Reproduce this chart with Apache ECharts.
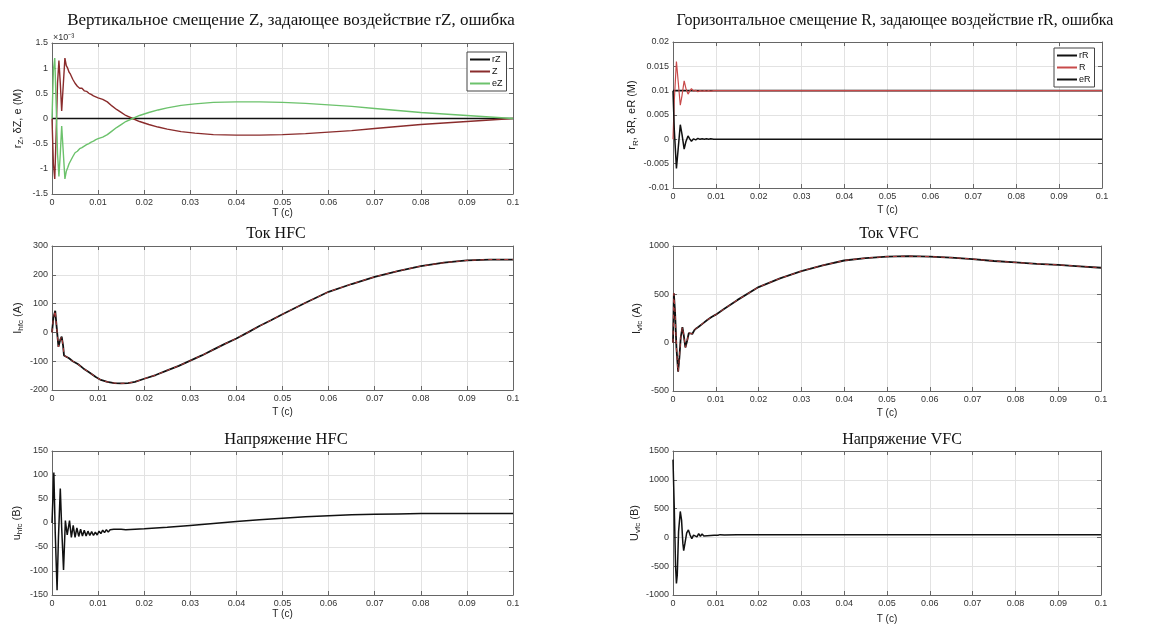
<!DOCTYPE html>
<html><head><meta charset="utf-8">
<script src="https://cdn.jsdelivr.net/npm/echarts@6/dist/echarts.min.js"></script>
<style>html,body{margin:0;padding:0;background:#fff}#c{width:1173px;height:628px}</style>
</head><body><div id="c"></div>
<script>
// ---------- DATA ----------
const xTickLabels = ['0','0.01','0.02','0.03','0.04','0.05','0.06','0.07','0.08','0.09','0.1'];

// Panel 1: vertical displacement (units of 1e-3 m)
const tZ = [0,0.0003,0.0006,0.0009,0.0012,0.0015,0.0018,0.0021,0.0024,0.0028,0.0031,0.0034,0.0037,0.004,0.0045,0.005,0.0055,0.006,0.0065,0.007,0.0075,0.008,0.0085,0.009,0.0095,0.01,0.011,0.012,0.013,0.014,0.015,0.016,0.0175,0.019,0.021,0.023,0.025,0.028,0.031,0.035,0.04,0.045,0.05,0.055,0.06,0.065,0.07,0.075,0.08,0.085,0.09,0.095,0.1];
const zVals = [0,-0.9,-1.2,-0.3,0.7,1.15,0.7,0.15,0.6,1.2,1.05,1.0,0.92,0.88,0.78,0.7,0.64,0.6,0.6,0.55,0.54,0.5,0.48,0.45,0.43,0.41,0.38,0.33,0.25,0.18,0.12,0.06,0,-0.06,-0.12,-0.17,-0.21,-0.26,-0.29,-0.32,-0.33,-0.33,-0.32,-0.30,-0.27,-0.24,-0.20,-0.16,-0.12,-0.09,-0.06,-0.03,0];
const eZVals = [0,0.95,1.2,0.3,-0.7,-1.15,-0.7,-0.15,-0.6,-1.2,-1.05,-0.98,-0.9,-0.87,-0.76,-0.68,-0.65,-0.6,-0.58,-0.55,-0.52,-0.5,-0.47,-0.45,-0.42,-0.4,-0.37,-0.32,-0.25,-0.18,-0.12,-0.06,0,0.06,0.12,0.17,0.21,0.26,0.29,0.32,0.33,0.33,0.32,0.30,0.27,0.24,0.20,0.16,0.12,0.09,0.06,0.03,0];
const tRZ = [0,0.1];
const rZVals = [0,0];

// Panel 2: horizontal displacement (m)
const tR = [0,0.0003,0.0008,0.0012,0.0017,0.0021,0.0026,0.003,0.0035,0.0039,0.0043,0.0048,0.0053,0.0058,0.0063,0.0068,0.0073,0.0078,0.0083,0.0088,0.0095,0.012,0.02,0.1];
const rVals = [0,0.008,0.016,0.012,0.007,0.009,0.012,0.0105,0.0093,0.0099,0.0104,0.0099,0.0101,0.0098,0.01,0.0099,0.01,0.0099,0.01,0.0099,0.01,0.01,0.01,0.01];
const eRVals = [0.01,0.002,-0.006,-0.002,0.003,0.001,-0.002,-0.0005,0.0007,0.0001,-0.0004,0.0001,-0.0001,0.0002,0,0.0001,0,0.0001,0,0.0001,0,0,0,0];
const tRR = [0,0.1];
const rRVals = [0.01,0.01];

// Panel 3: HFC current (A)
const tI1 = [0,0.0003,0.0007,0.001,0.0014,0.0018,0.0021,0.0024,0.0026,0.003,0.0037,0.0045,0.0056,0.0068,0.0082,0.0095,0.0106,0.012,0.0135,0.015,0.0165,0.018,0.02,0.0225,0.025,0.0275,0.03,0.0325,0.035,0.0375,0.04,0.0425,0.045,0.0475,0.05,0.055,0.06,0.065,0.07,0.075,0.08,0.085,0.09,0.095,0.1];
const iHfc = [0,50,75,20,-50,-25,-15,-45,-80,-85,-90,-100,-110,-125,-140,-155,-165,-172,-176,-177,-176,-172,-161,-148,-132,-116,-98,-80,-60,-40,-21,0,22,42,63,103,141,168,193,213,230,242,250,253,253];

// Panel 4: VFC current (A)
const tI2 = [0,0.0002,0.0005,0.0008,0.0012,0.0015,0.0018,0.0022,0.0025,0.0029,0.0033,0.0037,0.0041,0.0045,0.005,0.0055,0.006,0.007,0.008,0.009,0.01,0.012,0.015,0.02,0.025,0.03,0.035,0.04,0.045,0.05,0.055,0.06,0.065,0.07,0.075,0.08,0.085,0.09,0.095,0.1];
const iVfc = [0,510,300,-50,-300,-150,50,160,80,-50,20,100,95,90,130,150,165,200,235,265,290,350,440,575,665,740,800,850,875,890,895,890,880,865,845,830,815,805,790,775];

// Panel 5: HFC voltage (V)
const tU1 = [0,0.0004,0.0007,0.0011,0.0014,0.0018,0.0021,0.0025,0.0029,0.0033,0.0038,0.0042,0.0046,0.005,0.0054,0.0058,0.0062,0.0066,0.007,0.0074,0.0078,0.0082,0.0086,0.009,0.0094,0.0098,0.0102,0.0106,0.011,0.0114,0.0118,0.0122,0.0126,0.013,0.0134,0.0138,0.0142,0.0146,0.015,0.016,0.018,0.02,0.025,0.03,0.035,0.04,0.045,0.05,0.055,0.06,0.065,0.07,0.075,0.08,0.085,0.09,0.095,0.1];
const uHfc = [0,105,-20,-140,-30,72,-10,-98,5,-25,5,-30,-5,-30,-10,-28,-13,-27,-15,-27,-17,-26,-18,-26,-19,-25,-17,-22,-15,-20,-14,-19,-14,-18,-13,-17,-13,-16,-13,-14,-13,-12,-9,-5,-1,3,7,10,13,15,17,18,19,20,20,20,20,20];

// Panel 6: VFC voltage (V)
const tU2 = [0,0.0003,0.0006,0.0008,0.001,0.0013,0.0017,0.002,0.0023,0.0025,0.0028,0.0032,0.0036,0.004,0.0044,0.0048,0.0052,0.0056,0.006,0.0064,0.0068,0.0072,0.0076,0.008,0.0084,0.0088,0.0092,0.0096,0.01,0.0105,0.011,0.012,0.015,0.02,0.05,0.1];
const uVfc = [1350,500,-500,-800,-650,100,450,300,-100,-230,-100,80,130,40,-20,40,70,10,65,20,60,25,58,30,55,33,52,36,50,38,48,42,44,45,45,45];

const titles = [
  'Вертикальное смещение Z, задающее воздействие rZ, ошибка',
  'Горизонтальное смещение R, задающее воздействие rR, ошибка',
  'Ток HFC','Ток VFC','Напряжение HFC','Напряжение VFC'];

// ---------- LAYOUT ----------
const grids = [
  {left:52, top:43, width:461, height:151},
  {left:673, top:42, width:429, height:146},
  {left:52, top:246, width:461, height:144},
  {left:673, top:246, width:428, height:145},
  {left:52, top:451, width:461, height:144},
  {left:673, top:451, width:428, height:144}];
const yCfg = [
  {min:-1.5, max:1.5, interval:0.5, name:'{b|r}{s|Z}{b|, δZ, e (М)}', gap:27},
  {min:-0.01, max:0.02, interval:0.005, name:'{b|r}{s|R}{b|, δR, eR (М)}', gap:33},
  {min:-200, max:300, interval:100, name:'{b|I}{s|hfc}{b| (A)}', gap:27},
  {min:-500, max:1000, interval:500, name:'{b|I}{s|vfc}{b| (A)}', gap:29},
  {min:-150, max:150, interval:50, name:'{b|u}{s|hfc}{b| (В)}', gap:28},
  {min:-1000, max:1500, interval:500, name:'{b|U}{s|vfc}{b| (В)}', gap:28}];
const xNameGap = [11, 17, 17, 17, 12, 19];
const titleTop = [7, 8, 221, 221, 426, 427];
const titleSize = [17, 16, 16, 16, 16.5, 16];
const titleCx = [286, 890, 271, 884, 281, 897];

const FONT = 'Liberation Sans, Arial, sans-serif';
const AX = '#666';
const xFmt = v => { const i = Math.round(v*100); return xTickLabels[i] !== undefined ? xTickLabels[i] : ''; };
const yFmt = v => String(+v.toFixed(4));

const xAxes = [], yAxes = [], title = [];
grids.forEach((g, i) => {
  title.push({text: titles[i], left: titleCx[i], top: titleTop[i], textAlign: 'center',
    textStyle: {fontFamily: 'Liberation Serif, Times New Roman, serif', fontSize: titleSize[i], fontWeight: 'normal', color: '#111'}});
  xAxes.push({gridIndex:i, type:'value', min:0, max:0.1, interval:0.01, position:'bottom',
    name:'T (c)', nameLocation:'middle', nameGap:xNameGap[i],
    nameTextStyle:{fontFamily:FONT, fontSize:10, color:'#222'},
    axisLine:{show:true, onZero:false, lineStyle:{color:AX, width:1}},
    axisTick:{show:true, inside:true, length:4, lineStyle:{color:AX}},
    axisLabel:{fontFamily:FONT, fontSize:9, color:'#333', margin:4, formatter:xFmt},
    splitLine:{show:true, lineStyle:{color:'#e2e2e2', width:1}}});
  xAxes.push({gridIndex:i, type:'value', min:0, max:0.1, interval:0.01, position:'top',
    axisLine:{show:true, onZero:false, lineStyle:{color:AX, width:1}},
    axisTick:{show:true, inside:true, length:4, lineStyle:{color:AX}},
    axisLabel:{show:false}, splitLine:{show:false}});
  const y = yCfg[i];
  yAxes.push({gridIndex:i, type:'value', min:y.min, max:y.max, interval:y.interval, position:'left',
    name:y.name, nameLocation:'middle', nameGap:y.gap, nameRotate:90,
    nameTextStyle:{rich:{
      b:{fontFamily:FONT, fontSize:11, color:'#222', lineHeight:15, verticalAlign:'middle'},
      s:{fontFamily:FONT, fontSize:8, color:'#222', lineHeight:15, verticalAlign:'bottom', padding:[6,0,0,0]}}},
    axisLine:{show:true, onZero:false, lineStyle:{color:AX, width:1}},
    axisTick:{show:true, inside:true, length:4, lineStyle:{color:AX}},
    axisLabel:{fontFamily:FONT, fontSize:9, color:'#333', margin:4, formatter:yFmt},
    splitLine:{show:true, lineStyle:{color:'#e2e2e2', width:1}}});
  yAxes.push({gridIndex:i, type:'value', min:y.min, max:y.max, interval:y.interval, position:'right',
    axisLine:{show:true, onZero:false, lineStyle:{color:AX, width:1}},
    axisTick:{show:true, inside:true, length:4, lineStyle:{color:AX}},
    axisLabel:{show:false}, splitLine:{show:false}});
});

const pairs = (t, v) => t.map((x, k) => [x, v[k]]);
const line = (name, panel, t, v, color, width, extra) => Object.assign({
  name, type:'line', xAxisIndex: panel*2, yAxisIndex: panel*2, data: pairs(t, v),
  showSymbol:false, symbol:'none', smooth:false, animation:false,
  lineStyle:{color, width}, itemStyle:{color}, z: 3}, extra || {});

const series = [
  line('rZ', 0, tRZ, rZVals, '#111', 1.6),
  line('Z', 0, tZ, zVals, '#8a2c2c', 1.4),
  line('eZ', 0, tZ, eZVals, '#6cc26c', 1.4),
  line('rR', 1, tRR, rRVals, '#111', 1.6),
  line('R', 1, tR, rVals, '#c84a4a', 1.2),
  line('eR', 1, tR, eRVals, '#111', 1.5),
  line('Ihfc', 2, tI1, iHfc, '#111', 1.8),
  line('Ihfc_ref', 2, tI1, iHfc, '#b03a3a', 1, {lineStyle:{color:'#b03a3a', width:1, type:[4,4]}}),
  line('Ivfc', 3, tI2, iVfc, '#111', 1.8),
  line('Ivfc_ref', 3, tI2, iVfc, '#b03a3a', 1, {lineStyle:{color:'#b03a3a', width:1, type:[4,4]}}),
  line('uhfc', 4, tU1, uHfc, '#111', 1.5),
  line('Uvfc', 5, tU2, uVfc, '#111', 1.5)
];

const legendBase = {orient:'vertical', itemWidth:20, itemHeight:2, itemGap:3, icon:'rect',
  backgroundColor:'#fff', borderColor:'#444', borderWidth:1, borderRadius:0, padding:[3,4,3,3],
  textStyle:{fontFamily:FONT, fontSize:9, color:'#111', padding:[0,0,0,-3]}, selectedMode:false};
const legend = [
  Object.assign({}, legendBase, {data:['rZ','Z','eZ'], left:467, top:52}),
  Object.assign({}, legendBase, {data:['rR','R','eR'], left:1054, top:48})];

const chart = echarts.init(document.getElementById('c'), null, {renderer:'canvas'});
chart.setOption({
  backgroundColor:'#fff', animation:false,
  title, grid: grids.map(g => Object.assign({containLabel:false}, g)),
  xAxis: xAxes, yAxis: yAxes, legend, series,
  graphic:[{type:'text', left:53, top:33, style:{text:'×10⁻³', font:'9px Liberation Sans, Arial', fill:'#333'}}]
});
</script></body></html>
